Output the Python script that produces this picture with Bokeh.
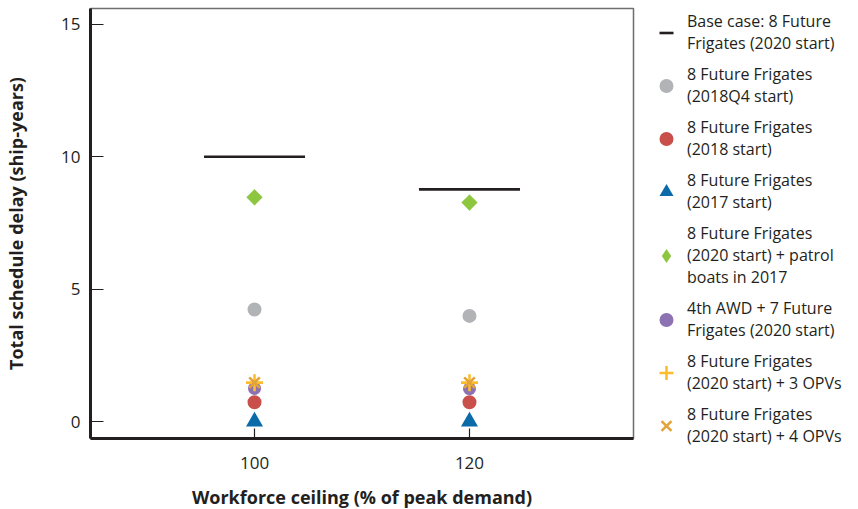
import numpy as np
from bokeh.plotting import figure
from bokeh.models import Legend, LegendItem, FixedTicker, Range1d
from bokeh.embed import file_html
from bokeh.resources import INLINE

# ---------------- data ----------------
workforce = [100, 120]                 # Workforce ceiling (% of peak demand)
base_case = [10.0, 8.77]               # Base case: 8 Future Frigates (2020 start)
ff_2018q4 = [4.23, 3.99]               # 8 Future Frigates (2018Q4 start)
ff_2018 = [0.73, 0.73]                 # 8 Future Frigates (2018 start)
ff_2017 = [0.0, 0.0]                   # 8 Future Frigates (2017 start)
ff_patrol = [8.47, 8.27]               # 8 FF (2020 start) + patrol boats in 2017
awd_7ff = [1.25, 1.24]                 # 4th AWD + 7 Future Frigates (2020 start)
ff_3opv = [1.47, 1.47]                 # 8 FF (2020 start) + 3 OPVs
ff_4opv = [1.47, 1.47]                 # 8 FF (2020 start) + 4 OPVs

x_ticks = [100, 120]
y_ticks = [0, 5, 10, 15]

series_labels = [
    "Base case: 8 Future\nFrigates (2020 start)",
    "8 Future Frigates\n(2018Q4 start)",
    "8 Future Frigates\n(2018 start)",
    "8 Future Frigates\n(2017 start)",
    "8 Future Frigates\n(2020 start) + patrol\nboats in 2017",
    "4th AWD + 7 Future\nFrigates (2020 start)",
    "8 Future Frigates\n(2020 start) + 3 OPVs",
    "8 Future Frigates\n(2020 start) + 4 OPVs",
]

FONT = "Open Sans"
INK = "#231f20"
GREEN = "#8dc63f"

p = figure(frame_width=543, frame_height=430,
           x_range=Range1d(84.74, 135.26), y_range=Range1d(-0.64, 15.6),
           output_backend="svg", toolbar_location=None,
           min_border_left=90, min_border_top=8, min_border_right=225,
           min_border_bottom=66)

p.xgrid.visible = False
p.ygrid.visible = False
p.outline_line_color = "#6d6e71"
p.outline_line_width = 1.5
p.background_fill_color = "white"
p.border_fill_color = "white"

# axes
p.xaxis.ticker = FixedTicker(ticks=x_ticks)
p.yaxis.ticker = FixedTicker(ticks=y_ticks)
for ax in (p.xaxis[0], p.yaxis[0]):
    ax.axis_line_color = INK
    ax.axis_line_width = 3
    ax.major_tick_line_color = INK
    ax.major_tick_line_width = 1.2
    ax.major_tick_out = 0
    ax.minor_tick_line_color = None
    ax.major_label_text_font = FONT
    ax.major_label_text_font_size = "17px"
    ax.major_label_text_color = INK
    ax.axis_label_text_font = FONT
    ax.axis_label_text_font_size = "18px"
    ax.axis_label_text_font_style = "bold"
    ax.axis_label_text_color = INK
p.xaxis.major_tick_in = 10
p.yaxis.major_tick_in = 13
p.xaxis.major_label_standoff = 18
p.yaxis.major_label_standoff = 10
p.xaxis.axis_label = "Workforce ceiling (% of peak demand)"
p.yaxis.axis_label = "Total schedule delay (ship-years)"
p.xaxis.axis_label_standoff = 13
p.yaxis.axis_label_standoff = 30

# glyphs
r_base = p.scatter(workforce, base_case, marker="dash", size=101,
                   line_color=INK, line_width=2.6)
r_q4 = p.scatter(workforce, ff_2018q4, marker="circle", size=14,
                 fill_color="#b1b3b6", line_color=None)
r_2018 = p.scatter(workforce, ff_2018, marker="circle", size=14,
                   fill_color="#c9504a", line_color=None)
r_2017 = p.scatter(workforce, ff_2017, marker="triangle", size=17,
                   fill_color="#0b6aa8", line_color=None)
# diamond series: a plain diamond (used as legend key) under a square turned 45 degrees
r_patrol_key = p.scatter(workforce, ff_patrol, marker="diamond", size=16,
                         fill_color=GREEN, line_color=None)
r_patrol = p.scatter(workforce, ff_patrol, marker="square", size=11.5,
                     angle=np.pi / 4, fill_color=GREEN, line_color=None)
r_awd = p.scatter(workforce, awd_7ff, marker="circle", size=13,
                  fill_color="#8c72b2", line_color=None)
r_3opv = p.scatter(workforce, ff_3opv, marker="cross", size=17,
                   line_color="#fbbd2e", line_width=2.6)
r_4opv = p.scatter(workforce, ff_4opv, marker="x", size=15,
                   line_color="#e4a23a", line_width=2.6)

renderers = [r_base, r_q4, r_2018, r_2017, r_patrol_key, r_awd, r_3opv, r_4opv]
items = [LegendItem(label=lab, renderers=[r]) for lab, r in zip(series_labels, renderers)]

legend = Legend(items=items, location=(12, -9), orientation="vertical")
legend.border_line_color = None
legend.background_fill_alpha = 0
legend.margin = 0
legend.padding = 0
legend.spacing = 9
legend.glyph_width = 42
legend.glyph_height = 35
legend.label_standoff = 0
legend.label_text_font = FONT
legend.label_text_font_size = "16px"
legend.label_text_color = INK
p.add_layout(legend, "right")

open("out.html", "w").write(file_html(p, INLINE))
